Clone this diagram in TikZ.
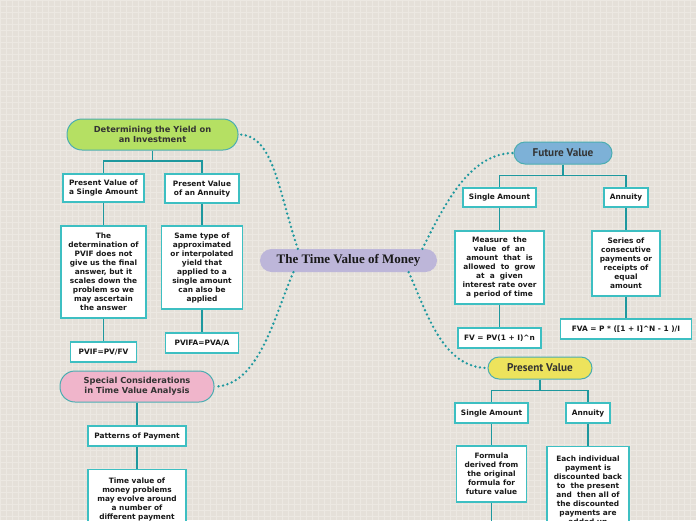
\documentclass[tikz,border=0pt]{standalone}
\usepackage{fontspec}
\newfontfamily\boxfont{DejaVu Sans}
\newfontfamily\topicfont{PT Sans}
\newfontfamily\rootfont{Liberation Serif}
\definecolor{paper}{HTML}{E5E0D9}
\definecolor{paperline}{HTML}{ECE8E2}
\definecolor{mapteal}{HTML}{1E989E}
\definecolor{boxedge}{HTML}{3DBFC2}
\definecolor{yieldgreen}{HTML}{B5E063}
\definecolor{fvblue}{HTML}{7DB1D7}
\definecolor{pvyellow}{HTML}{EDE35C}
\definecolor{specialpink}{HTML}{F0B5CB}
\definecolor{rootlilac}{HTML}{BDB6D9}

\begin{document}
\begin{tikzpicture}[x=1pt, y=-1pt,
      every node/.style={font=\boxfont\bfseries\fontsize{7.4}{9}\selectfont, text=black!90},
      leaf/.style={draw=boxedge, line width=1.1pt, fill=white, align=center, inner xsep=2pt, inner ysep=5.5pt},
      topic/.style={draw=mapteal!80, line width=1pt, rounded corners=11pt, align=center, text=black!80, font=\topicfont\bfseries\fontsize{11.2}{13}\selectfont},
      subject/.style={topic, rounded corners=15pt, font=\boxfont\bfseries\fontsize{8.3}{10}\selectfont},
      root/.style={fill=rootlilac, rounded corners=11.5pt, minimum width=177pt, minimum height=23pt, font=\rootfont\bfseries\fontsize{13}{15}\selectfont},
      branch/.style={draw=mapteal, line width=1.4pt},
      curvelink/.style={draw=mapteal, line width=2.6pt, line cap=round, dash pattern=on 0pt off 4.6pt}
    ]
    \useasboundingbox (0,0) rectangle (696,520);
    \clip (0,0) rectangle (696,520);
    \fill[paper] (0,0) rectangle (696,520);
    \draw[paperline, line width=0.6pt, step=6pt] (0,520) grid (696,0);

    \node[root] (money) at (348.5,260.5) {The Time Value of Money};

    \node[subject, fill=yieldgreen, minimum width=171pt, minimum height=31pt] (yield) at (152.5,134.5) {Determining the Yield on\\an Investment};
    \node[leaf, minimum width=81pt, minimum height=28pt] (pvsingle) at (103.5,188) {Present Value of\\a Single Amount};
    \node[leaf, minimum width=74pt, minimum height=29pt] (pvannuity) at (202,188.5) {Present Value\\of an Annuity};
    \node[leaf, minimum width=85pt, minimum height=92pt] (pvifnote) at (103.5,272) {The\\determination of\\PVIF does not\\give us the final\\answer, but it\\scales down the\\problem so we\\may ascertain\\the answer};
    \node[leaf, minimum width=81pt, minimum height=83pt] (pvifanote) at (202,267.5) {Same type of\\approximated\\or interpolated\\yield that\\applied to a\\single amount\\can also be\\applied};
    \node[leaf, minimum width=66pt, minimum height=20pt] (pvif) at (103.5,352) {PVIF=PV/FV};
    \node[leaf, minimum width=73pt, minimum height=20pt] (pvifa) at (202,343) {PVIFA=PVA/A};

    \node[subject, fill=specialpink, minimum width=154pt, minimum height=31pt] (special) at (137,386.5) {Special Considerations\\in Time Value Analysis};
    \node[leaf, minimum width=98pt, minimum height=20pt] (patterns) at (137,436) {Patterns of Payment};
    \node[leaf, minimum width=98pt, inner ysep=8.5pt, anchor=north] (patternsnote) at (137,469) {Time value of\\money problems\\may evolve around\\a number of\\different payment\\\phantom{x}};

    \node[topic, fill=fvblue, minimum width=98pt, minimum height=22pt] (fv) at (563,153) {Future Value};
    \node[leaf, minimum width=73pt, minimum height=19pt] (fvsingle) at (499.5,197.5) {Single Amount};
    \node[leaf, minimum width=44pt, minimum height=19pt] (fvannuity) at (626,197.5) {Annuity};
    \node[leaf, minimum width=89pt, minimum height=73pt] (fvsinglenote) at (499.5,267.5) {Measure\ \ the\\value\ \ of\ \ an\\amount\ \ that\ \ is\\allowed\ \ to\ \ grow\\at\ \ a\ \ given\\interest rate over\\a period of time};
    \node[leaf, minimum width=68pt, minimum height=65pt] (fvannuitynote) at (626,263.5) {Series of\\consecutive\\payments or\\receipts of\\equal\\amount};
    \node[leaf, minimum width=83pt, minimum height=20pt] (fvformula) at (499.5,338) {FV = PV(1 + I)\textasciicircum n};
    \node[leaf, minimum width=131pt, minimum height=20pt] (fvaformula) at (626,329) {FVA = P * ([1 + I]\textasciicircum N - 1 )/I};

    \node[topic, fill=pvyellow, minimum width=104pt, minimum height=22pt] (pv) at (540,368) {Present Value};
    \node[leaf, minimum width=73pt, minimum height=20pt] (pvsingleamt) at (491.5,413) {Single Amount};
    \node[leaf, minimum width=44pt, minimum height=20pt] (pvannuityamt) at (588,413) {Annuity};
    \node[leaf, minimum width=70pt, minimum height=56pt] (pvsinglenote) at (491.5,474) {Formula\\derived from\\the original\\formula for\\future value};
    \node[leaf, minimum width=82pt, inner ysep=9.5pt, anchor=north] (pvannuitynote) at (588,446) {Each individual\\payment is\\discounted back\\to\ \ the present\\and\ \ then all of\\the discounted\\payments are\\added up};
    \coordinate (pvbelow) at (491.5,530);

    \draw[branch] (yield.south) -- ++(0,10.5) -| (pvsingle.north);
    \draw[branch] (yield.south) -- ++(0,10.5) -| (pvannuity.north);
    \draw[branch] (pvsingle.south) -- (pvifnote.north);
    \draw[branch] (pvifnote.south) -- (pvif.north);
    \draw[branch] (pvannuity.south) -- (pvifanote.north);
    \draw[branch] (pvifanote.south) -- (pvifa.north);

    \draw[branch] (special.south) -- (patterns.north);
    \draw[branch] (patterns.south) -- (patternsnote.north);

    \draw[branch] (fv.south) -- ++(0,11) -| (fvsingle.north);
    \draw[branch] (fv.south) -- ++(0,11) -| (fvannuity.north);
    \draw[branch] (fvsingle.south) -- (fvsinglenote.north);
    \draw[branch] (fvsinglenote.south) -- (fvformula.north);
    \draw[branch] (fvannuity.south) -- (fvannuitynote.north);
    \draw[branch] (fvannuitynote.south) -- (fvaformula.north);

    \draw[branch] (pv.south) -- ++(0,11) -| (pvsingleamt.north);
    \draw[branch] (pv.south) -- ++(0,11) -| (pvannuityamt.north);
    \draw[branch] (pvsingleamt.south) -- (pvsinglenote.north);
    \draw[branch] (pvannuityamt.south) -- (pvannuitynote.north);
    \draw[branch] (pvsinglenote.south) -- (pvbelow);

    \draw[curvelink] (money.167) .. controls +(-20,-60) and +(35,0) .. (yield.east);
    \draw[curvelink] (money.9) .. controls +(20,-40) and +(-45,0) .. (fv.west);
    \draw[curvelink] (money.-11) .. controls +(18,40) and +(-45,0) .. (pv.west);
    \draw[curvelink] (money.-168) .. controls +(-18,40) and +(45,0) .. (special.east);

  \end{tikzpicture}
\end{document}
